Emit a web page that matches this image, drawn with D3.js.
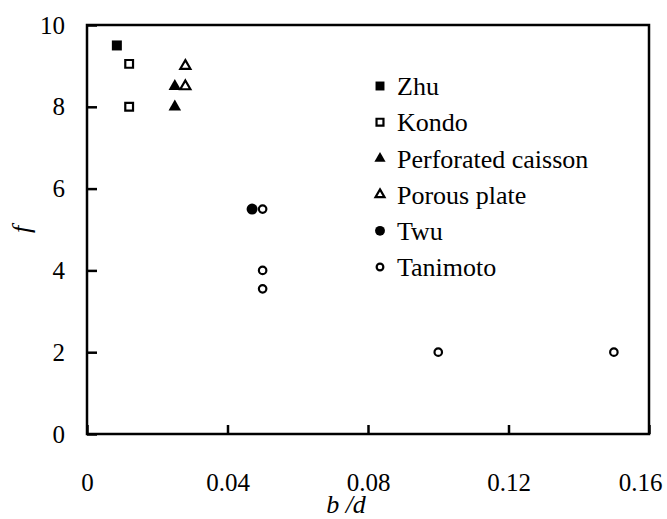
<!DOCTYPE html>
<html>
<head>
<meta charset="utf-8">
<script src="https://cdn.jsdelivr.net/npm/d3@7"></script>
</head>
<body style="margin:0;background:#fff">
<svg id="chart" width="667" height="519"></svg>
<script>
// Measured data: b/d against f for each source
const zhu        = [[0.0085, 9.5]];
const kondo      = [[0.012, 9.05], [0.012, 8.0]];
const perforated = [[0.025, 8.5], [0.025, 8.0]];
const porous     = [[0.028, 9.0], [0.028, 8.5]];
const twu        = [[0.047, 5.5]];
const tanimoto   = [[0.05, 5.5], [0.05, 4.0], [0.05, 3.55], [0.1, 2.0], [0.15, 2.0]];

const seriesNames = ["Zhu", "Kondo", "Perforated caisson", "Porous plate", "Twu", "Tanimoto"];
const xTicks = [0, 0.04, 0.08, 0.12, 0.16];
const yTicks = [0, 2, 4, 6, 8, 10];

const series = [
  { name: seriesNames[0], data: zhu,        shape: d3.symbolSquare,   filled: true,  size: 100 },
  { name: seriesNames[1], data: kondo,      shape: d3.symbolSquare,   filled: false, size: 60 },
  { name: seriesNames[2], data: perforated, shape: d3.symbolTriangle, filled: true,  size: 68 },
  { name: seriesNames[3], data: porous,     shape: d3.symbolTriangle, filled: false, size: 44 },
  { name: seriesNames[4], data: twu,        shape: d3.symbolCircle,   filled: true,  size: 95 },
  { name: seriesNames[5], data: tanimoto,   shape: d3.symbolCircle,   filled: false, size: 44 }
];

// Serif label text, used by every text element
function serif(sel, size, italic) {
  sel.style("font-family", '"Times New Roman"')
     .style("font-size", size + "px")
     .style("font-style", italic ? "italic" : "normal")
     .attr("fill", "#000");
}

const margin = { left: 87, top: 25, right: 18, bottom: 85 };
const W = 667, H = 519;
const iw = W - margin.left - margin.right;
const ih = H - margin.top - margin.bottom;

const svg = d3.select("#chart");
const g = svg.append("g").attr("transform", `translate(${margin.left},${margin.top})`);

const x = d3.scaleLinear().domain([0, 0.16]).range([0, iw]);
const y = d3.scaleLinear().domain([0, 10]).range([ih, 0]);

// Axes with inward ticks
const xAxis = d3.axisBottom(x).tickValues(xTicks).tickSize(-9).tickPadding(39)
  .tickFormat(d => d === 0 ? "0" : d3.format(".2f")(d));
const yAxis = d3.axisLeft(y).tickValues(yTicks).tickSize(-10).tickPadding(22)
  .tickFormat(d3.format("d"));

const gx = g.append("g").attr("transform", `translate(0,${ih})`).call(xAxis);
const gy = g.append("g").call(yAxis);
[gx, gy].forEach(a => {
  a.attr("font-family", null).attr("font-size", null);
  a.select(".domain").remove();
  a.selectAll("line").attr("stroke", "#000").attr("stroke-width", 2.5);
  a.selectAll("text").call(serif, 25, false);
});
// last x label sits pulled in from the right edge
gx.selectAll(".tick text").filter(d => d === 0.16).attr("dx", -9);

// Plot frame
g.append("rect")
  .attr("x", 0).attr("y", 0).attr("width", iw).attr("height", ih)
  .attr("fill", "none").attr("stroke", "#000").attr("stroke-width", 2.5);

// Markers
function drawSymbol(sel, s) {
  sel.attr("d", d3.symbol().type(s.shape).size(s.size))
    .attr("fill", s.filled ? "#000" : "#fff")
    .attr("stroke", s.filled ? "none" : "#000")
    .attr("stroke-width", s.filled ? 0 : 2.2);
}

series.forEach(s => {
  g.append("g").selectAll("path")
    .data(s.data)
    .join("path")
    .attr("transform", d => `translate(${x(d[0])},${y(d[1])})`)
    .call(drawSymbol, s);
});

// Legend
const legend = g.append("g").attr("transform", `translate(${380 - margin.left},${86 - margin.top})`);
series.forEach((s, i) => {
  const row = legend.append("g").attr("transform", `translate(0,${i * 36.2})`);
  row.append("path").call(drawSymbol, Object.assign({}, s, { size: s.size * 0.8 }));
  row.append("text")
    .attr("x", 17).attr("y", 0).attr("dy", "0.35em")
    .call(serif, 26, false)
    .text(s.name);
});

// Axis titles
svg.append("text")
  .attr("x", margin.left + x(0.08) - 22).attr("y", 513)
  .attr("text-anchor", "middle")
  .call(serif, 26, true)
  .text("b /d");

svg.append("text")
  .attr("transform", `translate(30,${margin.top + y(5)}) rotate(-90)`)
  .attr("text-anchor", "middle")
  .call(serif, 26, true)
  .text("f");
</script>
</body>
</html>
